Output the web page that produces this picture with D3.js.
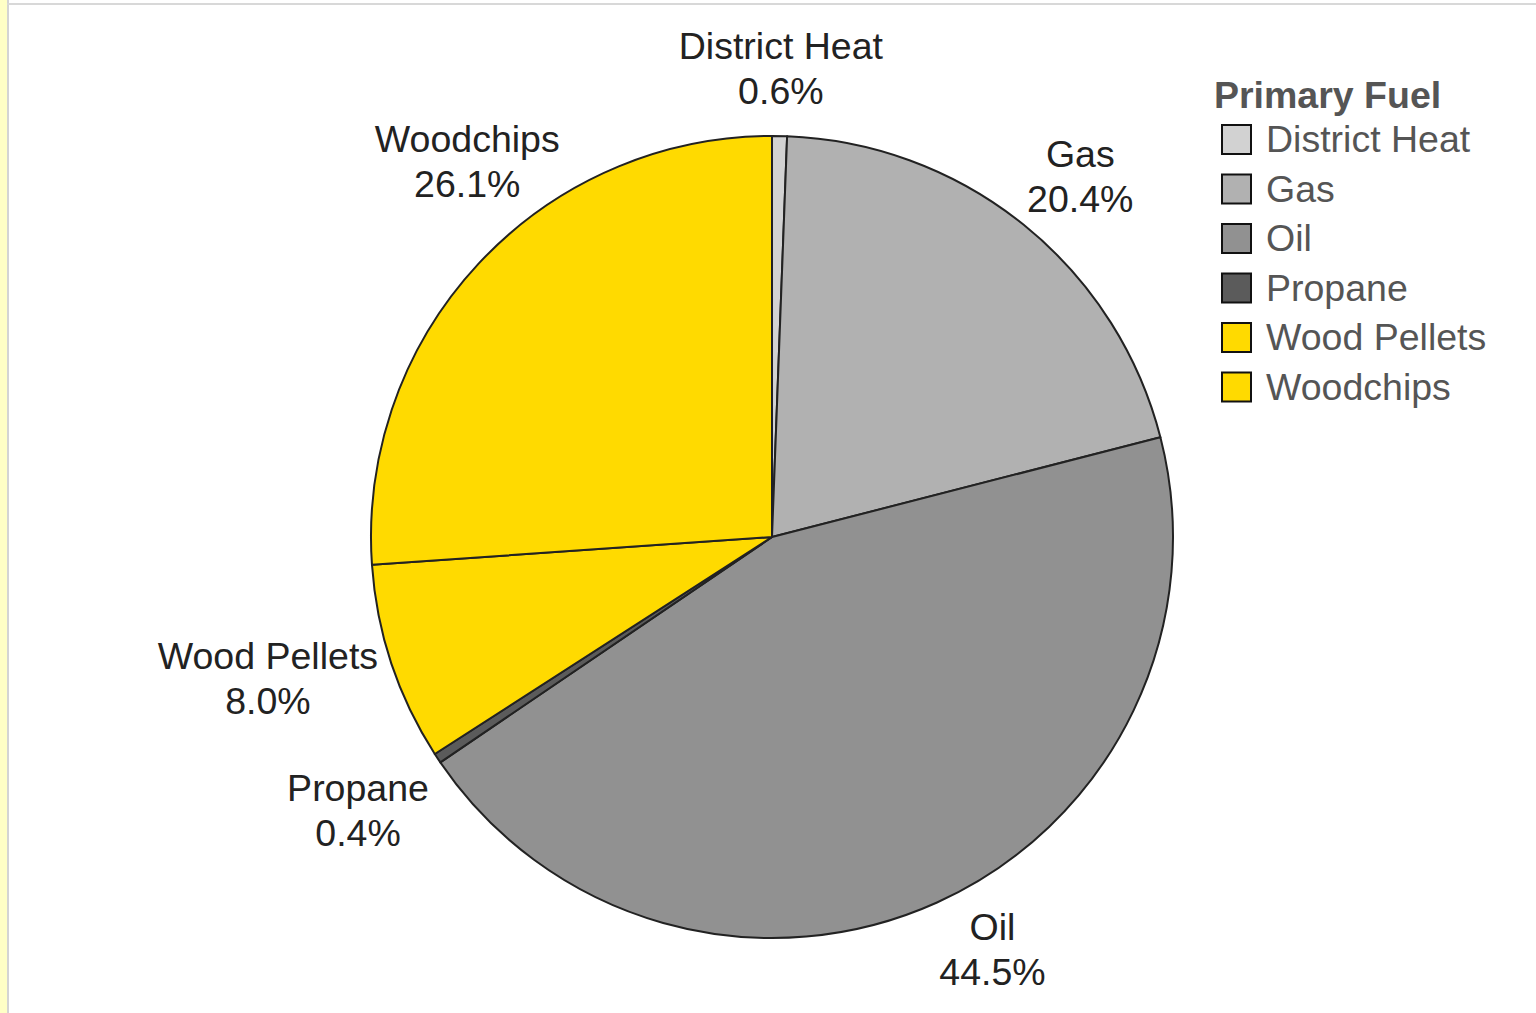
<!DOCTYPE html>
<html>
<head>
<meta charset="utf-8">
<script src="https://cdn.jsdelivr.net/npm/d3@7"></script>
<style>
  html, body { margin: 0; padding: 0; background: #fff; }
  svg { display: block; }
</style>
</head>
<body>
<svg id="chart"></svg>
<script>
// fuel shares, clockwise from 12 o'clock
const fuels = ["District Heat", "Gas", "Oil", "Propane", "Wood Pellets", "Woodchips"];
const shares = [0.6, 20.4, 44.5, 0.4, 8.0, 26.1];
const colors = ["#d2d2d2", "#b1b1b1", "#919191", "#5b5b5b", "#ffda00", "#ffda00"];
const legendTitle = "Primary Fuel";

// small hand tweaks of the label placement (layout only)
const labelNudge = { "Gas": [12, 7], "Oil": [27, -16], "Propane": [-11, 7], "Wood Pellets": [-16, -20], "Woodchips": [48, -46] };

const width = 1536;
const height = 1013;
const cx = 772, cy = 537, r = 401;
const fontSize = 37.5;
const font = "'Liberation Sans', Arial, Helvetica, sans-serif";

const svg = d3.select("#chart")
    .attr("width", width)
    .attr("height", height);

// page frame: yellow strip on the left, thin grey borders
svg.append("rect").attr("x", 0).attr("y", 0).attr("width", 7).attr("height", height).attr("fill", "#ffffc6");
svg.append("rect").attr("x", 7).attr("y", 0).attr("width", 2).attr("height", height).attr("fill", "#d4d4d4");
svg.append("rect").attr("x", 7).attr("y", 3).attr("width", width).attr("height", 2).attr("fill", "#d8d8d8");

const data = fuels.map((f, i) => ({ name: f, value: shares[i], color: colors[i] }));

const pie = d3.pie().value(d => d.value).sort(null);
const arc = d3.arc().innerRadius(0).outerRadius(r);
const arcs = pie(data);

const g = svg.append("g").attr("transform", `translate(${cx},${cy})`);

g.selectAll("path")
    .data(arcs)
    .enter().append("path")
    .attr("d", arc)
    .attr("fill", d => d.data.color)
    .attr("stroke", "#222")
    .attr("stroke-width", 2)
    .attr("stroke-linejoin", "round");

// labels: pushed out along the mid angle so the text box clears the rim
const lineH = 45;
const labels = g.selectAll("g.label")
    .data(arcs)
    .enter().append("g")
    .attr("class", "label");

labels.each(function(d) {
    const el = d3.select(this);
    const t = el.append("text")
        .attr("text-anchor", "middle")
        .attr("font-family", font)
        .attr("font-size", fontSize)
        .attr("fill", "#222");
    t.append("tspan").attr("x", 0).attr("dy", -lineH / 2 + 13).text(d.data.name);
    t.append("tspan").attr("x", 0).attr("dy", lineH).text(d.data.value.toFixed(1) + "%");

    const bb = t.node().getBBox();
    const a = bb.width / 2, b = 44;
    const ang = (d.startAngle + d.endAngle) / 2;
    const s = Math.sin(ang), c = Math.cos(ang);
    const ext = a * b / Math.sqrt((b * s) ** 2 + (a * c) ** 2);
    const dist = r + 24 + ext;
    const nudge = labelNudge[d.data.name] || [0, 0];
    el.attr("transform", `translate(${s * dist + nudge[0]},${-c * dist + nudge[1]})`);
});

// legend
const legend = svg.append("g").attr("transform", "translate(1214,0)");
legend.append("text")
    .attr("x", 0).attr("y", 108)
    .attr("font-family", font)
    .attr("font-weight", "bold")
    .attr("font-size", fontSize)
    .attr("fill", "#555")
    .text(legendTitle);

const rowY = d3.scaleLinear().domain([0, 1]).range([139, 188.5]);
const items = legend.selectAll("g.item")
    .data(data)
    .enter().append("g")
    .attr("class", "item")
    .attr("transform", (d, i) => `translate(0,${rowY(i)})`);

items.append("rect")
    .attr("x", 8).attr("y", -14)
    .attr("width", 29).attr("height", 29)
    .attr("fill", d => d.color)
    .attr("stroke", "#111")
    .attr("stroke-width", 2);

items.append("text")
    .attr("x", 52).attr("y", 13)
    .attr("font-family", font)
    .attr("font-size", fontSize)
    .attr("fill", "#555")
    .text(d => d.name);
</script>
</body>
</html>
